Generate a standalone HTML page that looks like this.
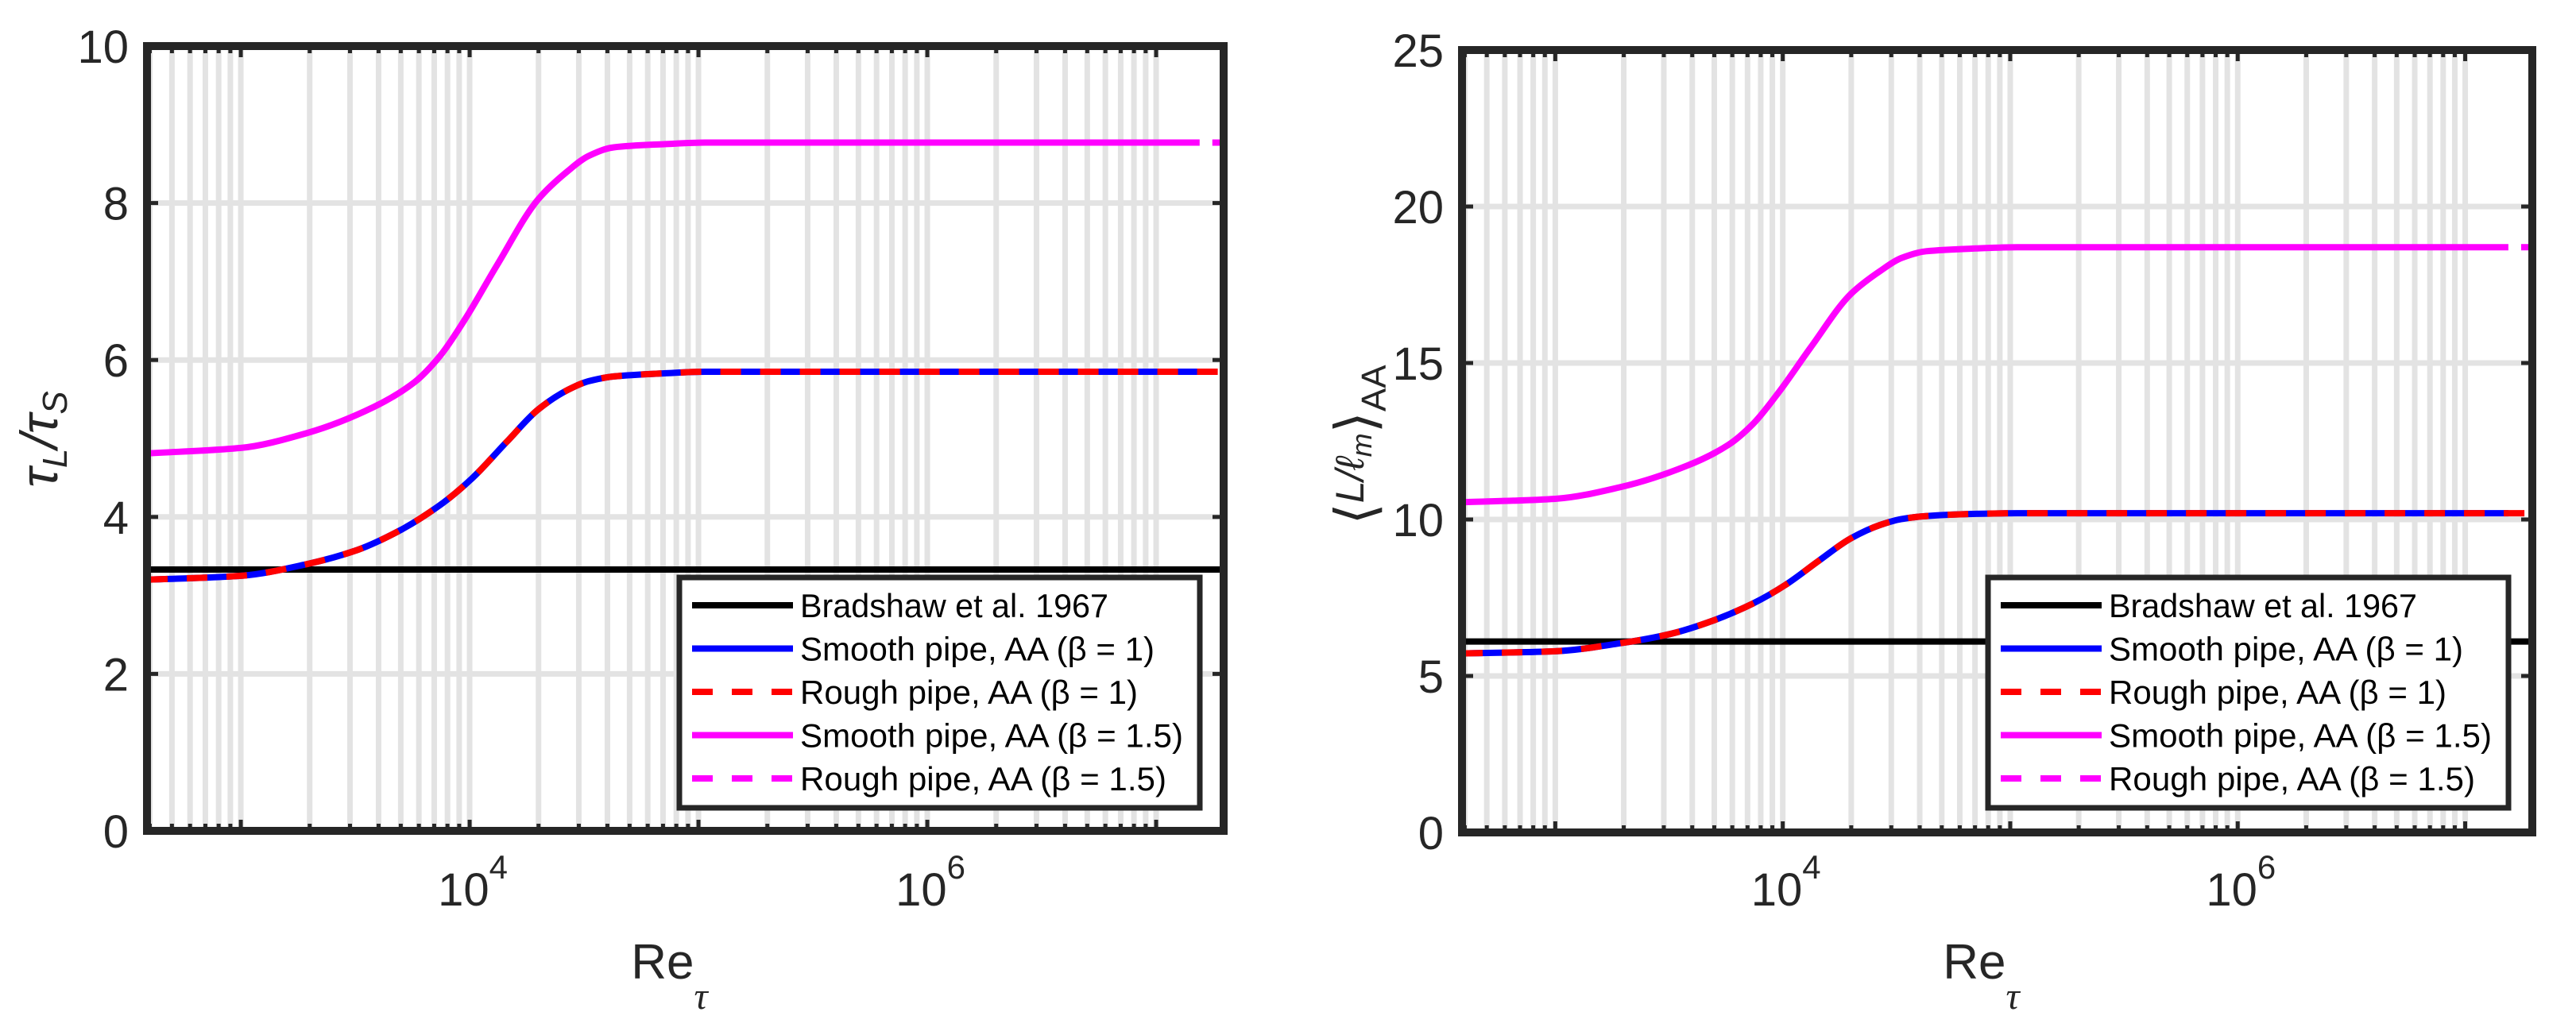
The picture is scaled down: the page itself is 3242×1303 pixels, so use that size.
<!DOCTYPE html>
<html><head><meta charset="utf-8"><style>
html,body{margin:0;padding:0;background:#fff;}
svg{display:block;}
text{font-family:"Liberation Sans","DejaVu Sans",sans-serif;fill:#262626;}
</style></head><body>
<svg id="fig" width="3242" height="1303" viewBox="0 0 3242 1303" xmlns="http://www.w3.org/2000/svg"></svg>
<script>
// ---- data ----
const logMin = 2.59, logMax = 7.295;
const bradshawLeft = 3.33;
const bradshawRight = 6.1;
const blueLogs = [2.59,3.00,3.29,3.51,3.69,3.87,4.01,4.16,4.30,4.43,4.52,4.63,4.85,5.03,7.19];
const blueLeft = [3.20,3.25,3.40,3.58,3.82,4.15,4.49,4.95,5.37,5.62,5.73,5.79,5.83,5.85,5.85];
const blueRight = [5.72,5.79,6.05,6.35,6.76,7.32,7.90,8.69,9.40,9.83,10.01,10.11,10.18,10.20,10.20];
const magLogs = [2.59,3.00,3.29,3.58,3.76,3.87,3.98,4.12,4.30,4.43,4.52,4.63,4.85,5.03,7.19];
const magLeft = [4.81,4.88,5.07,5.40,5.72,6.05,6.52,7.21,8.05,8.41,8.60,8.71,8.75,8.77,8.77];
const magRight = [10.55,10.66,11.04,11.72,12.38,13.06,14.04,15.47,17.21,17.95,18.35,18.57,18.66,18.70,18.70];
const roughEndLog = 7.30;
const yTicksLeft = [0,2,4,6,8,10];
const yTicksRight = [0,5,10,15,20,25];
const xMajorExps = [4,6];
const legendLabels = ["Bradshaw et al. 1967","Smooth pipe, AA (β = 1)","Rough pipe, AA (β = 1)","Smooth pipe, AA (β = 1.5)","Rough pipe, AA (β = 1.5)"];

const NS = "http://www.w3.org/2000/svg";
const svg = document.getElementById('fig');
function mk(tag, attrs, parent){ const e=document.createElementNS(NS,tag); for(const k in attrs) e.setAttribute(k,attrs[k]); (parent||svg).appendChild(e); return e; }

// monotone cubic (Fritsch-Carlson) path in screen coords
function monoPath(pts){
  const n = pts.length;
  const dx=[], dy=[], s=[];
  for(let i=0;i<n-1;i++){ dx[i]=pts[i+1][0]-pts[i][0]; dy[i]=pts[i+1][1]-pts[i][1]; s[i]=dy[i]/dx[i]; }
  const m=[s[0]];
  for(let i=1;i<n-1;i++){
    if(s[i-1]*s[i]<=0) m[i]=0;
    else { const w1=2*dx[i]+dx[i-1], w2=dx[i]+2*dx[i-1]; m[i]=(w1+w2)/(w1/s[i-1]+w2/s[i]); }
  }
  m[n-1]=s[n-2];
  let d='M'+pts[0][0].toFixed(1)+','+pts[0][1].toFixed(1);
  for(let i=0;i<n-1;i++){
    const h=dx[i];
    d+='C'+(pts[i][0]+h/3).toFixed(1)+','+(pts[i][1]+m[i]*h/3).toFixed(1)+' '+(pts[i+1][0]-h/3).toFixed(1)+','+(pts[i+1][1]-m[i+1]*h/3).toFixed(1)+' '+pts[i+1][0].toFixed(1)+','+pts[i+1][1].toFixed(1);
  }
  return d;
}

function drawPanel(cfg){
  const g = mk('g',{});
  
  
  const L=cfg.x0,R=cfg.x1,T=cfg.y0,B=cfg.y1;
  const xs = v => L + (v-logMin)/(logMax-logMin)*(R-L);
  const ys = v => B - v/cfg.ymax*(B-T);
  const grid = mk('g',{stroke:'#e3e3e3','stroke-width':7},g);
  
  
  const tickG = mk('g',{stroke:'#262626','stroke-width':5},g);
  for(let d=2; d<=7; d++){
    for(let m=1; m<=9; m++){
      const lv = d + Math.log10(m);
      if(lv < logMin+0.005 || lv > logMax) continue;
      const x = xs(lv);
      mk('line',{x1:x,x2:x,y1:T,y2:B},grid);
      const len = (m===1)?14:9;
      mk('line',{x1:x,x2:x,y1:B,y2:B-len},tickG);
      mk('line',{x1:x,x2:x,y1:T,y2:T+len},tickG);
    }
  }
  cfg.yticks.forEach(v=>{
    const y = ys(v);
    if(v>0 && v<cfg.ymax) mk('line',{x1:L,x2:R,y1:y,y2:y},grid);
    mk('line',{x1:L,x2:L+14,y1:y,y2:y},tickG);
    mk('line',{x1:R,x2:R-14,y1:y,y2:y},tickG);
    const t = mk('text',{x:cfg.ylabX,y:y+21,'text-anchor':'end','font-size':58},g);
    t.textContent = v;
    
    
  });
  xMajorExps.forEach(e=>{
    const x = xs(e);
    const t = mk('text',{x:x+4,y:1140,'text-anchor':'middle','font-size':58},g);
    
    
    t.appendChild(document.createTextNode('10'));
    const s = mk('tspan',{dy:-34,'font-size':42},t); s.textContent = e;
  });
  const path = (logs, vals, endLog) => {
    let pts = logs.map((l,i)=>[xs(l),ys(vals[i])]);
    if(endLog!==undefined) pts[pts.length-1][0] = xs(endLog);
    return monoPath(pts);
  };
  const by = ys(cfg.brad);
  const b = mk('line',{x1:L,x2:R,y1:by,y2:by,stroke:'#000','stroke-width':8},g);
  
  
  const s1 = mk('path',{d:path(blueLogs,cfg.blue),fill:'none',stroke:'#0000ff','stroke-width':8},g);
  
  
  const r1 = mk('path',{d:path(blueLogs,cfg.blue,roughEndLog),fill:'none',stroke:'#ff0000','stroke-width':8,'stroke-dasharray':'26 24'},g);
  
  
  const s2 = mk('path',{d:path(magLogs,cfg.mag),fill:'none',stroke:'#ff00ff','stroke-width':8},g);
  
  
  // rough beta=1.5 segment visible beyond the smooth curve end
  const ry = ys(cfg.mag[cfg.mag.length-1]);
  const r2 = mk('line',{x1:xs(magLogs[magLogs.length-1])+16,x2:xs(logMax),y1:ry,y2:ry,stroke:'#ff00ff','stroke-width':8},g);
  
  
  const box = mk('rect',{x:L,y:T,width:R-L,height:B-T,fill:'none',stroke:'#262626','stroke-width':10},g);
  
  
  const lg = mk('g',{},g);
  
  
  const lx0 = R-30-655, ly0 = 727;
  mk('rect',{x:lx0,y:ly0,width:655,height:290,fill:'#fff',stroke:'#262626','stroke-width':7},lg);
  const styles = [['#000',null],['#0000ff',null],['#ff0000','26 24'],['#ff00ff',null],['#ff00ff','26 24']];
  const widths = [388,446,425,482,461];
  legendLabels.forEach((lab,i)=>{
    const cy = ly0+35+i*54.5;
    const e = mk('g',{},lg);
    
    
    const ln = mk('line',{x1:lx0+16,x2:lx0+143,y1:cy,y2:cy,stroke:styles[i][0],'stroke-width':8},e);
    if(styles[i][1]) ln.setAttribute('stroke-dasharray',styles[i][1]);
    const t = mk('text',{x:lx0+152,y:cy+15,'font-size':42,fill:'#000',textLength:widths[i],lengthAdjust:'spacingAndGlyphs'},e);
    t.textContent = lab;
    t.setAttribute('style','fill:#000');
  });
  const xl = mk('text',{x:(L+R)/2-20,y:1232,'text-anchor':'middle','font-size':62},g);
  
  
  xl.appendChild(document.createTextNode('Re'));
  const sub = mk('tspan',{dy:38,'font-size':48,'font-style':'italic','font-family':'"Liberation Serif",serif'},xl); sub.textContent='τ';
}

drawPanel({name:'left-panel',x0:185,x1:1540,y0:58,y1:1046,ymax:10,yticks:yTicksLeft,ylabX:162,brad:bradshawLeft,blue:blueLeft,mag:magLeft});
drawPanel({name:'right-panel',x0:1840,x1:3187,y0:63,y1:1048,ymax:25,yticks:yTicksRight,ylabX:1817,brad:bradshawRight,blue:blueRight,mag:magRight});

const yl1 = mk('text',{transform:'translate(72,553) rotate(-90)','text-anchor':'middle','font-size':66,'font-style':'italic','font-family':'"Liberation Serif",serif'});


yl1.appendChild(document.createTextNode('τ'));
let t1 = mk('tspan',{dy:12,'font-size':44},yl1); t1.textContent='L';
let t2 = mk('tspan',{dy:-12,'font-size':66},yl1); t2.textContent='/τ';
let t3 = mk('tspan',{dy:12,'font-size':44},yl1); t3.textContent='S';

const yl2 = mk('text',{transform:'translate(1730,560) rotate(-90)','text-anchor':'middle','font-size':70,'font-family':'"Liberation Serif",serif'});


yl2.appendChild(document.createTextNode('⟨'));
let u1 = mk('tspan',{'font-style':'italic','font-size':50,dy:-14},yl2); u1.textContent='L/ℓ';
let u2 = mk('tspan',{'font-style':'italic','font-size':36,dy:10},yl2); u2.textContent='m';
let u3 = mk('tspan',{'font-size':70,dy:4},yl2); u3.textContent='⟩';
let u4 = mk('tspan',{'font-size':44,dy:14},yl2); u4.textContent='AA';
</script>
</body></html>
